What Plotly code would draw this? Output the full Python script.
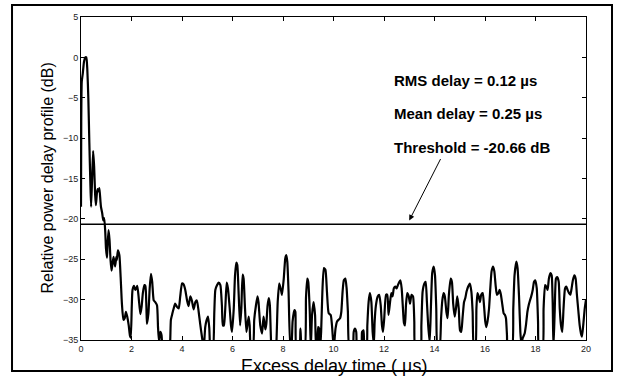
import plotly.graph_objects as go

delay_us = [
    0.00, 0.01, 0.03, 0.07, 0.12, 0.17, 0.21, 0.25, 0.29, 0.33, 0.37, 0.40, 0.44, 0.48, 0.52, 0.56,
    0.59, 0.63, 0.66, 0.70, 0.73, 0.77, 0.79, 0.84, 0.88, 0.92, 0.96, 0.99, 1.03, 1.05, 1.09, 1.13,
    1.17, 1.21, 1.25, 1.29, 1.35, 1.40, 1.42, 1.46, 1.52, 1.57, 1.62, 1.68, 1.73, 1.78, 1.83, 1.89,
    1.94, 1.97, 2.01, 2.04, 2.10, 2.15, 2.19, 2.23, 2.28, 2.35, 2.40, 2.45, 2.51, 2.55, 2.59, 2.61,
    2.67, 2.72, 2.77, 2.82, 2.88, 2.94, 3.01, 3.05, 3.09, 3.14, 3.19, 3.23, 3.35, 3.51, 3.56, 3.62,
    3.67, 3.73, 3.80, 3.87, 3.93, 4.00, 4.06, 4.13, 4.20, 4.26, 4.33, 4.39, 4.46, 4.53, 4.59, 4.66,
    4.72, 4.79, 4.86, 4.92, 4.97, 5.03, 5.08, 5.13, 5.22, 5.28, 5.32, 5.39, 5.45, 5.52, 5.58, 5.62,
    5.66, 5.72, 5.77, 5.82, 5.89, 5.94, 5.98, 6.05, 6.10, 6.15, 6.19, 6.24, 6.30, 6.35, 6.40, 6.44,
    6.49, 6.55, 6.59, 6.64, 6.68, 6.73, 6.81, 6.86, 6.93, 6.99, 7.03, 7.10, 7.17, 7.23, 7.30, 7.34,
    7.39, 7.44, 7.48, 7.54, 7.65, 7.73, 7.79, 7.85, 7.92, 7.96, 8.03, 8.09, 8.13, 8.17, 8.22, 8.29,
    8.34, 8.38, 8.45, 8.49, 8.53, 8.65, 8.69, 8.75, 8.86, 8.91, 8.96, 9.00, 9.06, 9.10, 9.15, 9.21,
    9.27, 9.31, 9.36, 9.39, 9.43, 9.47, 9.51, 9.56, 9.62, 9.68, 9.74, 9.81, 9.89, 9.94, 10.01, 10.08,
    10.14, 10.20, 10.26, 10.31, 10.36, 10.41, 10.47, 10.52, 10.57, 10.63, 10.76, 10.80, 10.85, 10.90, 10.94, 11.10,
    11.13, 11.19, 11.23, 11.31, 11.34, 11.39, 11.44, 11.50, 11.55, 11.60, 11.63, 11.68, 11.75, 11.81, 11.87, 11.92,
    11.96, 12.01, 12.08, 12.13, 12.18, 12.24, 12.29, 12.34, 12.39, 12.45, 12.50, 12.55, 12.61, 12.65, 12.70, 12.75,
    12.79, 12.83, 12.87, 12.92, 12.98, 13.03, 13.09, 13.15, 13.20, 13.24, 13.45, 13.48, 13.53, 13.60, 13.65, 13.70,
    13.75, 13.81, 13.86, 13.91, 13.97, 14.02, 14.07, 14.12, 14.20, 14.26, 14.31, 14.36, 14.41, 14.47, 14.52, 14.57,
    14.64, 14.69, 14.74, 14.80, 14.85, 14.90, 14.96, 15.01, 15.06, 15.11, 15.17, 15.22, 15.27, 15.33, 15.40, 15.46,
    15.51, 15.56, 15.62, 15.66, 15.70, 15.75, 15.80, 15.85, 15.91, 15.96, 16.01, 16.05, 16.10, 16.16, 16.21, 16.26,
    16.32, 16.37, 16.42, 16.47, 16.53, 16.58, 16.63, 16.69, 16.74, 16.79, 16.83, 16.87, 16.90, 17.07, 17.12, 17.17,
    17.24, 17.29, 17.35, 17.40, 17.44, 17.49, 17.57, 17.62, 17.68, 17.73, 17.78, 17.83, 17.89, 17.94, 17.99, 18.05,
    18.10, 18.14, 18.28, 18.32, 18.38, 18.43, 18.48, 18.53, 18.59, 18.64, 18.68, 18.71, 18.76, 18.81, 18.86, 18.92,
    18.96, 19.01, 19.06, 19.11, 19.17, 19.22, 19.27, 19.33, 19.38, 19.43, 19.48, 19.54, 19.59, 19.64, 19.70, 19.75,
    19.80, 19.84, 19.89, 19.95, 20.00,
]

power_db = [
    -18.5, -8.0, -3.0, -2.0, -0.5, 0.0, 0.0, -1.5, -5.0, -10.5, -15.5, -18.5, -15.0, -11.6, -13.5, -17.0,
    -18.3, -16.8, -16.3, -16.6, -16.2, -17.8, -18.5, -19.3, -20.2, -19.9, -21.6, -23.7, -24.8, -23.4, -21.4, -22.6,
    -25.1, -26.4, -25.5, -24.7, -25.9, -24.7, -25.1, -23.9, -24.5, -27.2, -30.5, -32.5, -32.3, -31.5, -32.1, -33.2,
    -34.5, -34.7, -30.9, -28.8, -28.3, -28.8, -28.6, -28.3, -29.6, -31.8, -30.9, -29.2, -28.2, -28.3, -30.9, -33.0,
    -31.7, -28.6, -26.8, -27.8, -30.1, -30.3, -30.7, -33.4, -35.2, -34.0, -34.4, -36.5, -38.0, -36.5, -32.5, -31.7,
    -31.1, -30.5, -30.9, -31.1, -29.6, -28.0, -28.1, -28.8, -30.1, -30.8, -29.6, -30.1, -31.2, -30.3, -30.1, -31.5,
    -33.0, -34.6, -36.0, -33.4, -32.6, -32.1, -33.5, -36.5, -37.0, -31.5, -28.8, -28.2, -27.9, -28.2, -30.7, -33.2,
    -33.2, -30.7, -27.9, -28.6, -31.1, -33.2, -34.0, -31.1, -27.0, -25.4, -25.7, -29.0, -33.2, -31.1, -26.9, -27.4,
    -30.7, -34.0, -33.2, -32.1, -33.2, -36.0, -36.0, -32.5, -30.7, -29.6, -30.3, -33.2, -34.2, -32.1, -33.7, -33.0,
    -30.7, -29.8, -30.7, -36.0, -38.0, -36.0, -30.3, -28.0, -28.8, -29.4, -27.4, -24.9, -24.5, -25.3, -29.0, -36.0,
    -35.5, -32.7, -31.3, -31.5, -36.0, -36.0, -33.6, -36.0, -36.0, -29.8, -27.4, -27.8, -31.5, -36.0, -31.9, -30.3,
    -31.9, -36.0, -35.5, -33.4, -33.6, -36.0, -34.0, -29.0, -26.1, -26.3, -29.0, -31.7, -31.9, -33.2, -36.0, -33.6,
    -32.7, -32.5, -32.3, -31.5, -29.0, -27.6, -27.4, -28.6, -31.5, -36.0, -36.0, -34.0, -33.6, -34.0, -36.0, -36.0,
    -34.0, -33.8, -36.0, -36.0, -33.2, -30.3, -29.2, -30.3, -34.0, -35.5, -32.7, -30.7, -29.6, -29.4, -30.7, -33.2,
    -34.0, -32.3, -29.4, -29.4, -31.9, -30.3, -29.2, -29.6, -28.6, -28.4, -28.6, -28.2, -27.8, -27.6, -28.6, -31.1,
    -32.9, -33.2, -30.7, -29.2, -29.6, -30.5, -29.4, -29.6, -32.7, -36.0, -36.0, -33.2, -29.0, -28.0, -27.8, -30.3,
    -33.2, -35.3, -30.7, -26.7, -25.9, -27.0, -31.1, -36.0, -36.0, -32.3, -30.1, -29.2, -29.6, -31.5, -32.3, -29.4,
    -27.4, -27.8, -30.5, -32.1, -31.1, -29.6, -31.1, -33.8, -34.0, -32.3, -30.3, -29.8, -29.0, -28.4, -28.0, -29.0,
    -31.5, -36.0, -36.0, -31.1, -29.2, -29.6, -30.3, -29.4, -29.2, -30.7, -32.7, -33.4, -32.7, -31.1, -28.6, -26.5,
    -25.9, -26.5, -28.2, -29.4, -29.2, -28.8, -29.4, -30.7, -31.7, -31.9, -32.3, -34.4, -36.0, -36.0, -31.1, -27.0,
    -25.3, -26.1, -29.8, -34.0, -35.5, -34.8, -34.2, -33.2, -31.5, -30.7, -30.1, -29.6, -28.8, -27.8, -27.6, -28.6,
    -32.7, -36.0, -36.0, -31.1, -28.2, -28.4, -28.8, -27.4, -26.7, -27.0, -30.3, -36.0, -31.5, -27.4, -27.2, -27.8,
    -31.1, -33.2, -34.0, -31.1, -28.6, -28.4, -28.8, -29.2, -29.4, -28.6, -27.6, -27.0, -27.4, -29.4, -31.5, -33.2,
    -34.2, -34.6, -33.2, -31.1, -30.0,
]

threshold_db = -20.66
x_range = [0, 20]
y_range = [-35, 5]
x_ticks = [0, 2, 4, 6, 8, 10, 12, 14, 16, 18, 20]
y_ticks = [5, 0, -5, -10, -15, -20, -25, -30, -35]
x_title = "Excess delay time ( µs)"
y_title = "Relative power delay profile (dB)"
info_lines = ["RMS delay = 0.12 µs", "Mean delay = 0.25 µs", "Threshold = -20.66 dB"]
info_y = [-2.9, -7.0, -11.2]
info_x = 12.3
arrow_tail = (14.27, -12.4)
arrow_head = (13.0, -20.2)

FONT = "Liberation Sans, Arial, Helvetica, sans-serif"

fig = go.Figure()
fig.add_trace(go.Scatter(
    x=delay_us, y=power_db, mode="lines",
    line=dict(color="black", width=2.2, shape="spline", smoothing=0.5),
    showlegend=False, hoverinfo="skip",
))
fig.add_trace(go.Scatter(
    x=x_range, y=[threshold_db, threshold_db], mode="lines",
    line=dict(color="black", width=1.6),
    showlegend=False, hoverinfo="skip",
))

annotations = []
for txt, yy in zip(info_lines, info_y):
    annotations.append(dict(
        x=info_x, y=yy, xref="x", yref="y", text="<b>%s</b>" % txt,
        showarrow=False, xanchor="left", yanchor="middle",
        font=dict(family=FONT, size=15, color="black"),
    ))
annotations.append(dict(
    x=arrow_head[0], y=arrow_head[1], ax=arrow_tail[0], ay=arrow_tail[1],
    xref="x", yref="y", axref="x", ayref="y", text="",
    showarrow=True, arrowhead=2, arrowsize=1.1, arrowwidth=1, arrowcolor="black", standoff=0,
))
# axis titles
annotations.append(dict(
    x=0.5, y=-0.079, xref="paper", yref="paper", text=x_title, showarrow=False,
    xanchor="center", yanchor="middle", font=dict(family=FONT, size=18, color="black"),
))
annotations.append(dict(
    x=-0.0673, y=0.5, xref="paper", yref="paper", text=y_title, showarrow=False,
    textangle=-90, xanchor="center", yanchor="middle",
    font=dict(family=FONT, size=16, color="black"),
))

axis_common = dict(
    showline=True, linecolor="black", linewidth=1, mirror="ticks",
    ticks="inside", ticklen=4, tickwidth=1, tickcolor="black",
    showgrid=False, zeroline=False, automargin=False,
    tickfont=dict(family=FONT, size=9, color="#222"),
)

fig.update_layout(
    width=620, height=381,
    margin=dict(l=81, r=34, t=17, b=41),
    paper_bgcolor="white", plot_bgcolor="white",
    xaxis=dict(range=x_range, tickvals=x_ticks, **axis_common),
    yaxis=dict(range=y_range, tickvals=y_ticks, **axis_common),
    annotations=annotations,
    shapes=[dict(type="rect", xref="paper", yref="paper",
                 x0=-0.1366, x1=1.0515, y0=-0.096, y1=1.0372,
                 line=dict(color="black", width=2))],
)

fig.write_html("out.html", config={"displayModeBar": False},
               post_script="document.body.style.margin='0px';")
